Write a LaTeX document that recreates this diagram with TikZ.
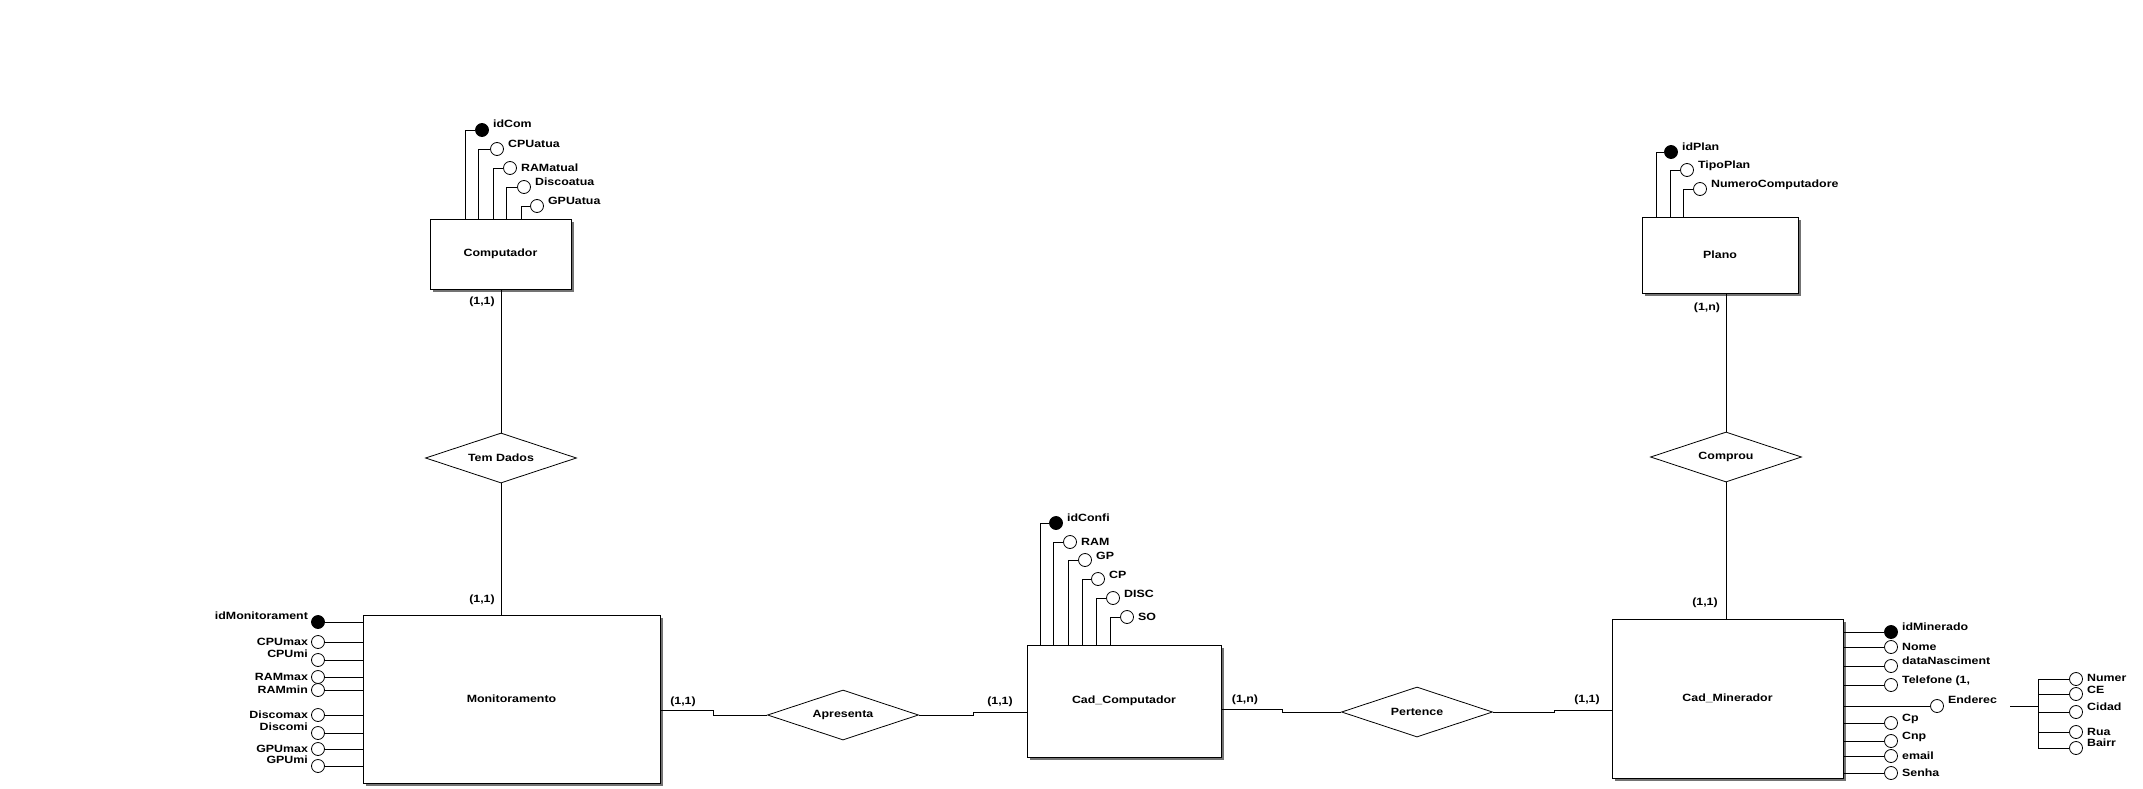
\documentclass[tikz,border=0pt]{standalone}
\usepackage{fontspec}
\newfontfamily\erfont[FakeStretch=1.18]{Liberation Sans}
\usetikzlibrary{shapes.geometric,shadows}
\tikzset{
  every node/.style={font=\erfont\bfseries\fontsize{10.5}{12}\selectfont},
  ln/.style={line width=0.8pt},
  entity/.style={draw, line width=0.9pt, fill=white, rectangle, inner sep=0pt,
     drop shadow={shadow xshift=2.5pt, shadow yshift=-2.5pt, fill=black!55, opacity=1}},
  rel/.style={draw, line width=0.8pt, diamond, aspect=3, inner sep=0pt, minimum width=151pt, minimum height=50pt},
  attr/.style={draw, line width=0.8pt, circle, fill=white, minimum size=13pt, inner sep=0pt},
  keyattr/.style={attr, fill=black},
  lbl/.style={inner sep=0pt},
  card/.style={inner sep=0pt}
}
\begin{document}
\begin{tikzpicture}[x=1pt,y=-1pt]
\path[use as bounding box] (0,0) rectangle (2143,789);

% ---------------- Entities ----------------
\node[entity, minimum width=141pt, minimum height=70pt] (comp) at (500.5,254) {Computador};
\node[entity, minimum width=156pt, minimum height=76pt] (plano) at (1720,255) {Plano};
\node[entity, minimum width=297pt, minimum height=168pt] (mon) at (511.5,699) {Monitoramento};
\node[entity, minimum width=194pt, minimum height=112pt] (cadc) at (1124,701) {Cad\_Computador};
\node[entity, minimum width=231pt, minimum height=159pt] (cadm) at (1727.5,698.5) {Cad\_Minerador};

% ---------------- Relationships ----------------
\node[rel] (temd) at (501,458) {Tem Dados};
\node[rel] (compr) at (1726,457) {Comprou};
\node[rel] (apres) at (843,715) {Apresenta};
\node[rel] (pert) at (1417,712) {Pertence};

\draw[ln] (temd.north) -- (temd.north |- comp.south);
\draw[ln] (temd.south) -- (temd.south |- mon.north);
\draw[ln] (compr.north) -- (compr.north |- plano.south);
\draw[ln] (compr.south) -- (compr.south |- cadm.north);
\draw[ln] ([yshift=-11pt]mon.east) -- ++(53,0) |- (apres.west);
\draw[ln] (apres.east) -- ++(54,0) |- ([yshift=-11pt]cadc.west);
\draw[ln] ([yshift=-8pt]cadc.east) -- ++(61,0) |- (pert.west);
\draw[ln] (pert.east) -- ++(61,0) |- ([yshift=-11.5pt]cadm.west);

% cardinalities
\node[card] (k1) at (482,302) {(1,1)};
\node[card] (k2) at (482,600) {(1,1)};
\node[card] (k3) at (1707,308) {(1,n)};
\node[card] (k4) at (1705,603) {(1,1)};
\node[card] (k5) at (683,702) {(1,1)};
\node[card] (k6) at (1000,702) {(1,1)};
\node[card] (k7) at (1245,700) {(1,n)};
\node[card] (k8) at (1587,700) {(1,1)};

% ---------------- Computador attributes ----------------
\node[keyattr] (c1) at (482,130) {};
\node[attr] (c2) at (497,149) {};
\node[attr] (c3) at (510,168) {};
\node[attr] (c4) at (524,187) {};
\node[attr] (c5) at (537,206) {};
\draw[ln] (c1.west) -| ([xshift=36pt]comp.north west);
\draw[ln] (c2.west) -| ([xshift=49pt]comp.north west);
\draw[ln] (c3.west) -| ([xshift=64pt]comp.north west);
\draw[ln] (c4.west) -| ([xshift=77pt]comp.north west);
\draw[ln] (c5.west) -| ([xshift=92pt]comp.north west);
\node[lbl, anchor=base west] (c1l) at ([xshift=4pt,yshift=2pt]c1.east) {idCom};
\node[lbl, anchor=base west] (c2l) at ([xshift=4pt,yshift=2pt]c2.east) {CPUatua};
\node[lbl, anchor=west] (c3l) at ([xshift=4pt]c3.east) {RAMatual};
\node[lbl, anchor=base west] (c4l) at ([xshift=4pt,yshift=2pt]c4.east) {Discoatua};
\node[lbl, anchor=base west] (c5l) at ([xshift=4pt,yshift=2pt]c5.east) {GPUatua};

% ---------------- Plano attributes ----------------
\node[keyattr] (p1) at (1671,152) {};
\node[attr] (p2) at (1687,170) {};
\node[attr] (p3) at (1700,189) {};
\draw[ln] (p1.west) -| ([xshift=15pt]plano.north west);
\draw[ln] (p2.west) -| ([xshift=29pt]plano.north west);
\draw[ln] (p3.west) -| ([xshift=42pt]plano.north west);
\node[lbl, anchor=base west] (p1l) at ([xshift=4pt,yshift=2pt]p1.east) {idPlan};
\node[lbl, anchor=base west] (p2l) at ([xshift=4pt,yshift=2pt]p2.east) {TipoPlan};
\node[lbl, anchor=base west] (p3l) at ([xshift=4pt,yshift=2pt]p3.east) {NumeroComputadore};

% ---------------- Cad_Computador attributes ----------------
\node[keyattr] (d1) at (1056,523) {};
\node[attr] (d2) at (1070,542) {};
\node[attr] (d3) at (1085,560) {};
\node[attr] (d4) at (1098,579) {};
\node[attr] (d5) at (1113,598) {};
\node[attr] (d6) at (1127,617) {};
\draw[ln] (d1.west) -| ([xshift=14pt]cadc.north west);
\draw[ln] (d2.west) -| ([xshift=27pt]cadc.north west);
\draw[ln] (d3.west) -| ([xshift=42pt]cadc.north west);
\draw[ln] (d4.west) -| ([xshift=56pt]cadc.north west);
\draw[ln] (d5.west) -| ([xshift=70pt]cadc.north west);
\draw[ln] (d6.west) -| ([xshift=84pt]cadc.north west);
\node[lbl, anchor=base west] (d1l) at ([xshift=4pt,yshift=2pt]d1.east) {idConfi};
\node[lbl, anchor=west] (d2l) at ([xshift=4pt]d2.east) {RAM};
\node[lbl, anchor=base west] (d3l) at ([xshift=4pt,yshift=1pt]d3.east) {GP};
\node[lbl, anchor=base west] (d4l) at ([xshift=4pt,yshift=1pt]d4.east) {CP};
\node[lbl, anchor=base west] (d5l) at ([xshift=4pt,yshift=1pt]d5.east) {DISC};
\node[lbl, anchor=west] (d6l) at ([xshift=4pt]d6.east) {SO};

% ---------------- Monitoramento attributes ----------------
\node[keyattr] (m1) at (318,622) {};
\node[attr] (m2) at (318,642) {};
\node[attr] (m3) at (318,660) {};
\node[attr] (m4) at (318,677) {};
\node[attr] (m5) at (318,690) {};
\node[attr] (m6) at (318,715) {};
\node[attr] (m7) at (318,733) {};
\node[attr] (m8) at (318,749) {};
\node[attr] (m9) at (318,766) {};
\foreach \m in {m1,m2,m3,m4,m5,m6,m7,m8,m9}{
  \draw[ln] (\m.east) -- (\m.east -| mon.west);
}
\node[lbl, anchor=base east] (m1l) at ([xshift=-3pt,yshift=3pt]m1.west) {idMonitorament};
\node[lbl, anchor=east] (m2l) at ([xshift=-3pt]m2.west) {CPUmax};
\node[lbl, anchor=base east] (m3l) at ([xshift=-3pt,yshift=3pt]m3.west) {CPUmi};
\node[lbl, anchor=east] (m4l) at ([xshift=-3pt]m4.west) {RAMmax};
\node[lbl, anchor=east] (m5l) at ([xshift=-3pt]m5.west) {RAMmin};
\node[lbl, anchor=east] (m6l) at ([xshift=-3pt]m6.west) {Discomax};
\node[lbl, anchor=base east] (m7l) at ([xshift=-3pt,yshift=3pt]m7.west) {Discomi};
\node[lbl, anchor=east] (m8l) at ([xshift=-3pt]m8.west) {GPUmax};
\node[lbl, anchor=base east] (m9l) at ([xshift=-3pt,yshift=3pt]m9.west) {GPUmi};

% ---------------- Cad_Minerador attributes ----------------
\node[keyattr] (n1) at (1891,632) {};
\node[attr] (n2) at (1891,647) {};
\node[attr] (n3) at (1891,666) {};
\node[attr] (n4) at (1891,685) {};
\node[attr] (n5) at (1937,706) {};
\node[attr] (n6) at (1891,723) {};
\node[attr] (n7) at (1891,741) {};
\node[attr] (n8) at (1891,756) {};
\node[attr] (n9) at (1891,773) {};
\foreach \n in {n1,n2,n3,n4,n5,n6,n7,n8,n9}{
  \draw[ln] (\n.west) -- (\n.west -| cadm.east);
}
\node[lbl, anchor=base west] (n1l) at ([xshift=4pt,yshift=2pt]n1.east) {idMinerado};
\node[lbl, anchor=west] (n2l) at ([xshift=4pt]n2.east) {Nome};
\node[lbl, anchor=base west] (n3l) at ([xshift=4pt,yshift=2pt]n3.east) {dataNasciment};
\node[lbl, anchor=base west] (n4l) at ([xshift=4pt,yshift=2pt]n4.east) {Telefone (1,};
\node[lbl, anchor=base west] (n5l) at ([xshift=4pt,yshift=3pt]n5.east) {Enderec};
\node[lbl, anchor=base west] (n6l) at ([xshift=4pt,yshift=2pt]n6.east) {Cp};
\node[lbl, anchor=base west] (n7l) at ([xshift=4pt,yshift=2pt]n7.east) {Cnp};
\node[lbl, anchor=west] (n8l) at ([xshift=4pt]n8.east) {email};
\node[lbl, anchor=west] (n9l) at ([xshift=4pt]n9.east) {Senha};

% Endereco composite
\coordinate (es) at (2010,706);
\coordinate (eb) at (2038,706);
\node[attr] (s1) at (2076,679) {};
\node[attr] (s2) at (2076,694) {};
\node[attr] (s3) at (2076,712) {};
\node[attr] (s4) at (2076,732) {};
\node[attr] (s5) at (2076,748) {};
\draw[ln] (es) -- (eb);
\draw[ln] (s1.west -| eb) -- (s5.west -| eb);
\foreach \s in {s1,s2,s3,s4,s5}{
  \draw[ln] (\s.west) -- (\s.west -| eb);
}
\node[lbl, anchor=west] (s1l) at ([xshift=4pt,yshift=1pt]s1.east) {Numer};
\node[lbl, anchor=base west] (s2l) at ([xshift=4pt,yshift=1pt]s2.east) {CE};
\node[lbl, anchor=base west] (s3l) at ([xshift=4pt,yshift=2pt]s3.east) {Cidad};
\node[lbl, anchor=west] (s4l) at ([xshift=4pt]s4.east) {Rua};
\node[lbl, anchor=base west] (s5l) at ([xshift=4pt,yshift=2pt]s5.east) {Bairr};
\end{tikzpicture}
\end{document}
